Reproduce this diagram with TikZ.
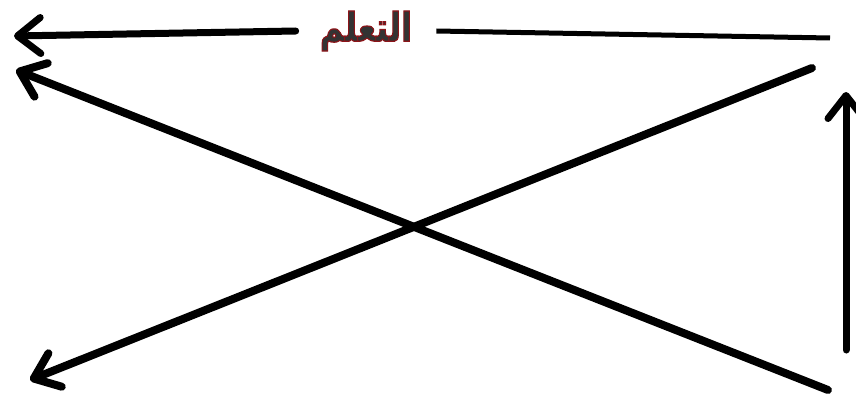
\documentclass[tikz,border=0pt]{standalone}
\usepackage{fontspec}
\newfontfamily\arabicfont[Script=Arabic]{DejaVu Sans}
\TeXXeTstate=1
\usetikzlibrary{arrows.meta}
\definecolor{darkred}{RGB}{120,20,25}
% red rim round the letters
\newcommand{\rimtext}[1]{\special{pdf:literal direct 2 Tr 1.2 w 0.55 0.08 0.1 RG}#1\special{pdf:literal direct 0 Tr}}

\begin{document}
\begin{tikzpicture}[
    x=1pt,y=-1pt,
    line cap=round,
    barb/.style={-{Straight Barb[length=23pt,width=36pt,line cap=round,line join=round]}},
    heavy/.style={line width=8pt},
    thin/.style={line width=5pt},
    word/.style={inner xsep=24pt,inner ysep=0pt,text=black!80,
                 font=\arabicfont\bfseries\fontsize{40}{44}\selectfont}
]
\useasboundingbox (0,0) rectangle (856,404);
% end points
\coordinate (topR) at (830,38);
\coordinate (topL) at (14,36);
\coordinate (diaA) at (828,390);
\coordinate (tipA) at (16,70);
\coordinate (diaB) at (812,68);
\coordinate (tipB) at (30,380);
\coordinate (upB) at (846,350);
\coordinate (upT) at (846,92);
% label
\node[word] (learn) at (366,31) {\scalebox{0.8}[1]{\rimtext{\beginR التعلم\endR}}};
% arrows
\draw[thin,line cap=butt] (topR) -- (learn.east);
\draw[barb,line width=7pt] (learn.west) -- (topL);
\draw[barb,heavy] (diaA) -- (tipA);
\draw[barb,heavy] (diaB) -- (tipB);
\draw[barb,line width=7pt] (upB) -- (upT);
\end{tikzpicture}
\end{document}
